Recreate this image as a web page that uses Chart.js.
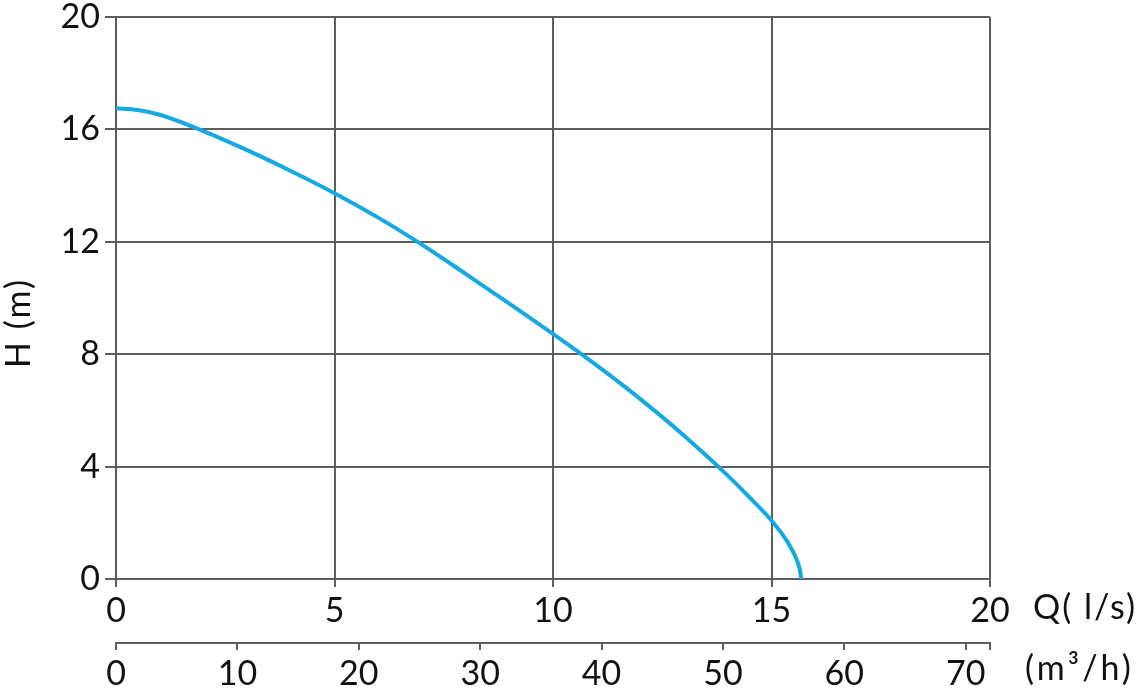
<!DOCTYPE html>
<html>
<head>
<meta charset="utf-8">
<title>Pump curve H(Q)</title>
<script src="https://cdn.jsdelivr.net/npm/chart.js@4.4.1/dist/chart.umd.min.js"></script>
<style>
  html, body { margin: 0; padding: 0; background: #fff; }
  #wrap { width: 1138px; height: 695px; }
</style>
</head>
<body>
<div id="wrap"><canvas id="pumpChart" width="1138" height="695"></canvas></div>
<script>
// ===========================
// Data
// ===========================
const flowLs = [0, 0.5, 1, 2, 3, 4, 5, 6, 7, 8, 9, 10, 11, 12, 13, 14, 14.5, 15, 15.35, 15.55, 15.65, 15.68];
const headM  = [16.75, 16.69, 16.52, 15.94, 15.26, 14.52, 13.73, 12.86, 11.9, 10.86, 9.8, 8.72, 7.6, 6.4, 5.1, 3.68, 2.9, 2.08, 1.36, 0.78, 0.32, 0];

const flowTicks = [0, 5, 10, 15, 20];                   // Q (l/s)
const m3hTicks  = [0, 10, 20, 30, 40, 50, 60, 70, 72];  // (m³/h), 72 = 20 l/s
const headTicks = [0, 4, 8, 12, 16, 20];                // H (m)

const yTitle = 'H (m)';
const xTitle = 'Q( l/s)';
const x2Title = '(m³/h)';

// ===========================
// Styling
// ===========================
const FONT = "'Lato', 'Open Sans', sans-serif";
const gridColor = '#5e5e5e';
const lineColor = '#14a9e3';
const tickFont = { family: FONT, size: 34 };

const setTicks = (values) => (scale) => {
  scale.ticks = values.map(v => ({ value: v }));
};

// extra axis titles, placed beside the tick labels like in the source
const axisTitles = {
  id: 'axisTitles',
  afterDraw(chart) {
    const { ctx, scales } = chart;
    ctx.save();
    ctx.fillStyle = '#111';
    ctx.font = `34px ${FONT}`;
    ctx.textBaseline = 'middle';
    ctx.textAlign = 'left';
    ctx.letterSpacing = '2px';
    ctx.fillText(xTitle, scales.x.right + 43, scales.x.top + 29);
    ctx.letterSpacing = '3px';
    ctx.fillText(x2Title, scales.x2.right + 35, scales.x2.top + 26);

    ctx.letterSpacing = '2px';
    ctx.translate(19, 323);
    ctx.rotate(-Math.PI / 2);
    ctx.textAlign = 'center';
    ctx.fillText(yTitle, 0, 0);
    ctx.restore();
  }
};

new Chart(document.getElementById('pumpChart'), {
  type: 'line',
  data: {
    datasets: [{
      label: 'H',
      data: flowLs.map((q, i) => ({ x: q, y: headM[i] })),
      borderColor: lineColor,
      borderWidth: 4,
      pointRadius: 0,
      cubicInterpolationMode: 'monotone',
      fill: false
    }]
  },
  options: {
    responsive: false,
    animation: false,
    devicePixelRatio: 1,
    layout: { padding: { top: 17, right: 148, left: 0, bottom: 0 } },
    plugins: {
      legend: { display: false },
      tooltip: { enabled: false }
    },
    scales: {
      x: {
        type: 'linear',
        position: 'bottom',
        weight: 0,
        min: 0,
        max: 20,
        afterBuildTicks: setTicks(flowTicks),
        afterFit: (s) => { s.height = 64; s.paddingLeft = 0; s.paddingRight = 0; },
        grid: { color: gridColor, lineWidth: 2, tickLength: 8 },
        border: { color: gridColor, width: 2 },
        ticks: { color: '#111', font: tickFont, padding: 4, autoSkip: false, maxRotation: 0 }
      },
      x2: {
        type: 'linear',
        position: 'bottom',
        weight: 1,
        min: 0,
        max: 72,
        afterBuildTicks: setTicks(m3hTicks),
        afterFit: (s) => { s.height = 52; s.paddingLeft = 0; s.paddingRight = 0; },
        grid: { drawOnChartArea: false, color: gridColor, lineWidth: 2, tickLength: 7 },
        border: { color: gridColor, width: 2 },
        ticks: {
          color: '#111', font: tickFont, padding: 4, autoSkip: false, maxRotation: 0,
          callback: (v) => (v === 72 ? '' : v)
        }
      },
      y: {
        type: 'linear',
        min: 0,
        max: 20,
        afterBuildTicks: setTicks(headTicks),
        afterFit: (s) => { s.width = 116; s.paddingTop = 0; s.paddingBottom = 0; },
        grid: { color: gridColor, lineWidth: 2, tickLength: 11 },
        border: { color: gridColor, width: 2 },
        ticks: { color: '#111', font: tickFont, padding: 5 }
      }
    }
  },
  plugins: [axisTitles]
});
</script>
</body>
</html>
